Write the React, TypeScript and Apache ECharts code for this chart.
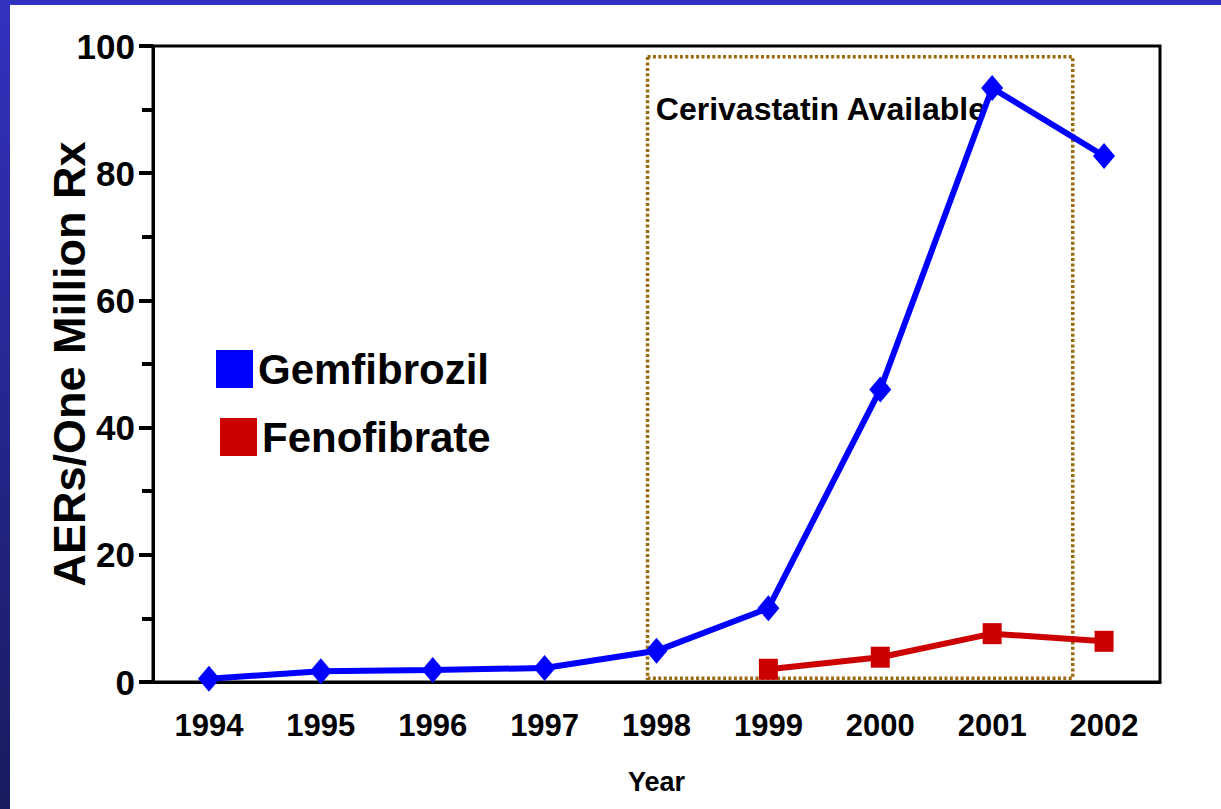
import React, { useEffect, useRef } from "react";
import * as echarts from "echarts";

const years = ["1994", "1995", "1996", "1997", "1998", "1999", "2000", "2001", "2002"];
const gemfibrozil = [0.5, 1.7, 1.9, 2.2, 4.9, 11.6, 46.0, 93.4, 82.7];
const fenofibrate = [null, null, null, null, null, 2.0, 3.9, 7.6, 6.4];
const availableWindow = { from: 3.92, to: 7.72, low: 0.6, high: 98.3 };
const yTitle = "AERs/One Million Rx";
const xTitle = "Year";
const windowLabel = "Cerivastatin Available";

const FONT = "'Liberation Sans', Arial, Helvetica, sans-serif";

export default function App() {
  const ref = useRef<HTMLDivElement>(null);
  useEffect(() => {
    if (!ref.current) return;
    const chart = echarts.init(ref.current, null, { renderer: "svg" });
    chart.setOption({
      animation: false,
      backgroundColor: "#ffffff",
      textStyle: { fontFamily: FONT },
      graphic: [
        { type: "rect", left: 0, top: 0, shape: { width: 1221, height: 5 }, style: { fill: "#3232c0" }, silent: true },
        {
          type: "rect",
          left: 0,
          top: 0,
          shape: { width: 10, height: 809 },
          style: {
            fill: new echarts.graphic.LinearGradient(0, 0, 0, 1, [
              { offset: 0, color: "#3232c0" },
              { offset: 1, color: "#1a1a5e" },
            ]),
          },
          silent: true,
        },
      ],
      grid: {
        left: 153,
        right: 61,
        top: 46,
        bottom: 127,
        show: true,
        borderColor: "#000",
        borderWidth: 3,
        backgroundColor: "transparent",
        containLabel: false,
        outerBoundsMode: "none",
      },
      legend: [
        {
          data: ["Gemfibrozil"],
          left: 216,
          top: 348,
          padding: 0,
          icon: "rect",
          itemWidth: 37,
          itemHeight: 38,
          selectedMode: false,
          textStyle: { fontSize: 42, fontWeight: "bold", color: "#000", fontFamily: FONT },
        },
        {
          data: ["Fenofibrate"],
          left: 220,
          top: 416,
          padding: 0,
          icon: "rect",
          itemWidth: 37,
          itemHeight: 38,
          selectedMode: false,
          textStyle: { fontSize: 42, fontWeight: "bold", color: "#000", fontFamily: FONT },
        },
      ],
      xAxis: [
        {
          type: "category",
          data: years,
          boundaryGap: true,
          axisLine: { lineStyle: { color: "#000", width: 3 } },
          axisTick: { show: false },
          axisLabel: { fontSize: 31, fontWeight: "bold", color: "#000", margin: 28, fontFamily: FONT },
          name: xTitle,
          nameLocation: "middle",
          nameGap: 86,
          nameMoveOverlap: false,
          nameTextStyle: { fontSize: 27, fontWeight: "bold", color: "#000", fontFamily: FONT },
          splitLine: { show: false },
        },
        {
          type: "value",
          min: -0.5,
          max: 8.5,
          show: false,
          splitLine: { show: false },
        },
      ],
      yAxis: {
        type: "value",
        min: 0,
        max: 100,
        interval: 20,
        axisLine: { show: true, onZero: false, lineStyle: { color: "#000", width: 3 } },
        axisTick: { show: true, length: 14, lineStyle: { color: "#000", width: 4 } },
        minorTick: { show: true, splitNumber: 2, length: 11, lineStyle: { color: "#000", width: 4 } },
        axisLabel: { fontSize: 35, fontWeight: "bold", color: "#000", margin: 18, fontFamily: FONT },
        splitLine: { show: false },
        name: yTitle,
        nameLocation: "middle",
        nameGap: 61,
        nameMoveOverlap: false,
        nameTextStyle: { fontSize: 45, fontWeight: "bold", color: "#000", fontFamily: FONT },
      },
      series: [
        {
          name: "window",
          type: "line",
          xAxisIndex: 1,
          data: [],
          silent: true,
          markArea: {
            silent: true,
            itemStyle: {
              color: "rgba(0,0,0,0)",
              borderColor: "#9a6a0e",
              borderWidth: 3.5,
              borderType: [3, 2.4],
            },
            label: {
              show: true,
              position: "insideTopLeft",
              offset: [5, 33],
              fontSize: 32,
              fontWeight: "bold",
              color: "#000",
              fontFamily: FONT,
            },
            data: [
              [
                { name: windowLabel, coord: [availableWindow.from, availableWindow.high] },
                { coord: [availableWindow.to, availableWindow.low] },
              ],
            ],
          },
        },
        {
          name: "Gemfibrozil",
          type: "line",
          data: gemfibrozil,
          symbol: "diamond",
          symbolSize: [22, 26],
          lineStyle: { color: "#0000ff", width: 6 },
          itemStyle: { color: "#0000ff" },
          z: 3,
        },
        {
          name: "Fenofibrate",
          type: "line",
          data: fenofibrate,
          symbol: "rect",
          symbolSize: [19, 21],
          lineStyle: { color: "#cc0000", width: 6 },
          itemStyle: { color: "#cc0000" },
          z: 4,
        },
      ],
    });
    return () => chart.dispose();
  }, []);
  return (
    <div
      ref={ref}
      style={{ position: "fixed", left: 0, top: 0, width: 1221, height: 809, background: "#fff" }}
    />
  );
}
